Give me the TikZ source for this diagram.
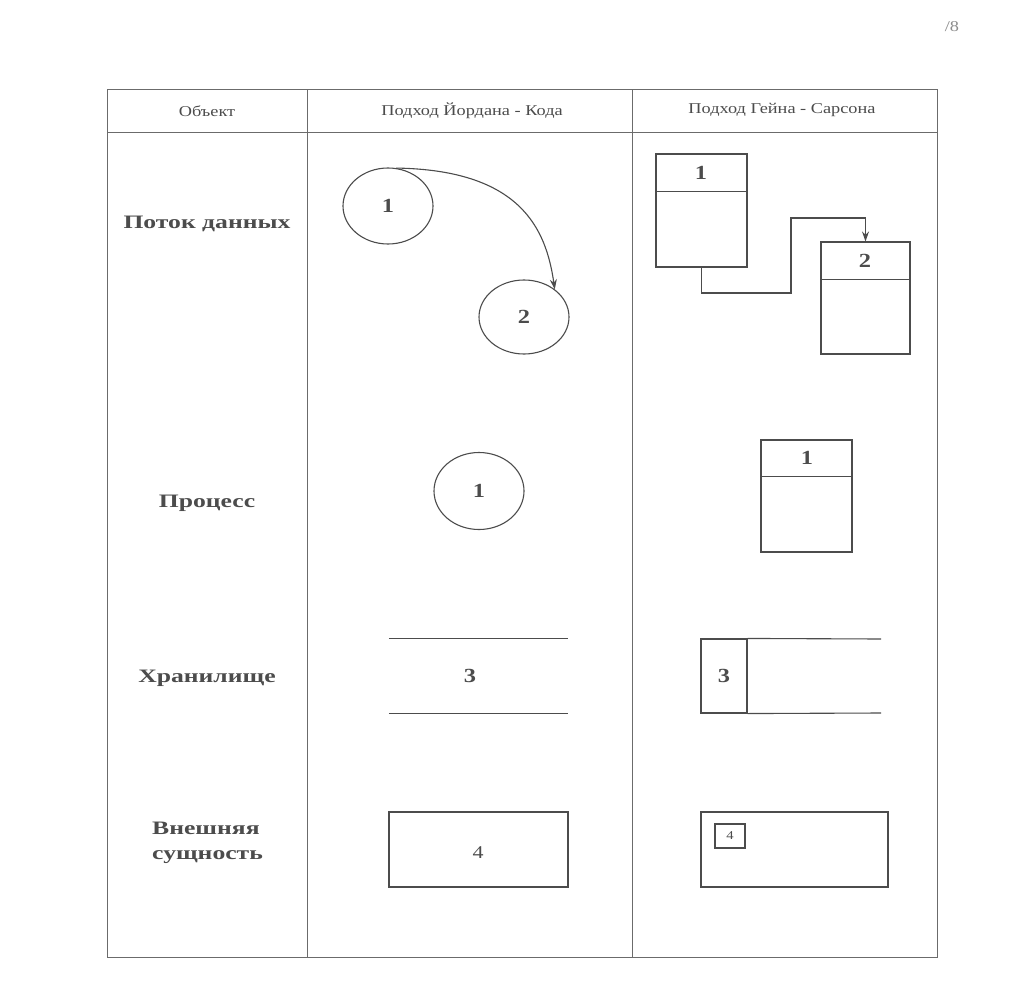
\documentclass[tikz,border=0pt]{standalone}
\usepackage{fontspec}
\setmainfont{Liberation Serif}[FakeStretch=1.22]
\newfontfamily\labfont{Liberation Serif}[FakeStretch=1.35]
\usetikzlibrary{shapes.geometric,arrows.meta,calc}
\definecolor{ink}{gray}{0.3}
\definecolor{rulec}{gray}{0.42}
\begin{document}
\begin{tikzpicture}[x=1pt,y=-1pt,
  tbl/.style={draw=rulec,line width=1pt},
  shp/.style={draw=ink,line width=1.1pt},
  hdr/.style={text=ink,font=\fontsize{15}{18}\selectfont,inner sep=0pt},
  lab/.style={text=ink,font=\labfont\bfseries\fontsize{19}{25}\selectfont,inner sep=0pt},
  num/.style={text=ink,font=\bfseries\fontsize{20}{22}\selectfont,inner sep=0pt},
  numr/.style={text=ink,font=\fontsize{18}{20}\selectfont,inner sep=0pt},
  ell/.style={shp,ellipse,minimum width=90pt,minimum height=76pt,inner sep=0pt},
  box/.style={shp,rectangle,inner sep=0pt},
  flow/.style={draw=ink,line width=1.1pt,-{Stealth[length=10pt,width=7pt]}}
]
\useasboundingbox (0,0) rectangle (1019,992);
\fill[white] (0,0) rectangle (1019,992);

% page mark
\node[text=black!45,font=\fontsize{15}{18}\selectfont] (pg) at (952,27) {/8};

% table
\draw[tbl] (107,90) rectangle (937,957);
\draw[tbl] (107,133) -- (937,133);
\draw[tbl] (307,90) -- (307,957);
\draw[tbl] (632,90) -- (632,957);

% headers
\node[hdr] (h0) at (207,111) {Объект};
\node[hdr] (h1) at (472,111) {Подход Йордана - Кода};
\node[hdr] (h2) at (782,110) {Подход Гейна - Сарсона};

% row labels
\node[lab] (l1) at (207,224) {Поток данных};
\node[lab] (l2) at (207,503) {Процесс};
\node[lab] (l3) at (207,678) {Хранилище};
\node[lab,align=left,anchor=west] (l4) at (152,843) {Внешняя\\сущность};

% ---- Yourdon-Coad column ----
\node[ell,num] (e1) at (388,206) {1};
\node[ell,num,minimum height=74pt] (e2) at (524,317) {2};
\draw[flow] (e1.78) .. controls (520,170) and (546,228) .. (e2.42);

\node[ell,num,minimum height=77pt] (e3) at (479,491) {1};

\node[minimum width=179pt,minimum height=74pt,inner sep=0pt] (s1) at (478.5,676) {};
\draw[shp] (s1.north west) -- (s1.north east);
\draw[shp] (s1.south west) -- (s1.south east);
\node[num] (s1n) at (470,676) {3};

\node[box,minimum width=179pt,minimum height=75pt] (x1) at (478.5,849.5) {};
\node[numr] (x1n) at (478,853) {4};

% ---- Gane-Sarson column ----
\node[box,minimum width=91pt,minimum height=113pt] (b1) at (701.5,210.5) {};
\draw[shp] ($(b1.north west)+(0,38)$) -- ($(b1.north east)+(0,38)$);
\node[num] (b1n) at (701,173) {1};

\node[box,minimum width=89pt,minimum height=112pt] (b2) at (865.5,298) {};
\draw[shp] ($(b2.north west)+(0,38)$) -- ($(b2.north east)+(0,38)$);
\node[num] (b2n) at (865,261) {2};

\coordinate (c1) at (791,293);
\coordinate (c2) at (791,218);
\draw[flow] (b1.south) |- (c1) -- (c2) -| (b2.north);

\node[box,minimum width=91pt,minimum height=112pt] (p2) at (806.5,496) {};
\draw[shp] ($(p2.north west)+(0,37)$) -- ($(p2.north east)+(0,37)$);
\node[num] (p2n) at (807,458) {1};

\node[box,num,minimum width=46pt,minimum height=74pt] (s2) at (724,676) {3};
\coordinate (s2a) at (881,639);
\coordinate (s2b) at (881,713);
\draw[shp] (s2.north east) -- (s2a);
\draw[shp] (s2.south east) -- (s2b);

\node[box,minimum width=187pt,minimum height=75pt] (x2) at (794.5,849.5) {};
\node[box,font=\fontsize{12}{14}\selectfont,text=ink,minimum width=30pt,minimum height=24pt] (x2n) at (730,836) {4};
\end{tikzpicture}
\end{document}
